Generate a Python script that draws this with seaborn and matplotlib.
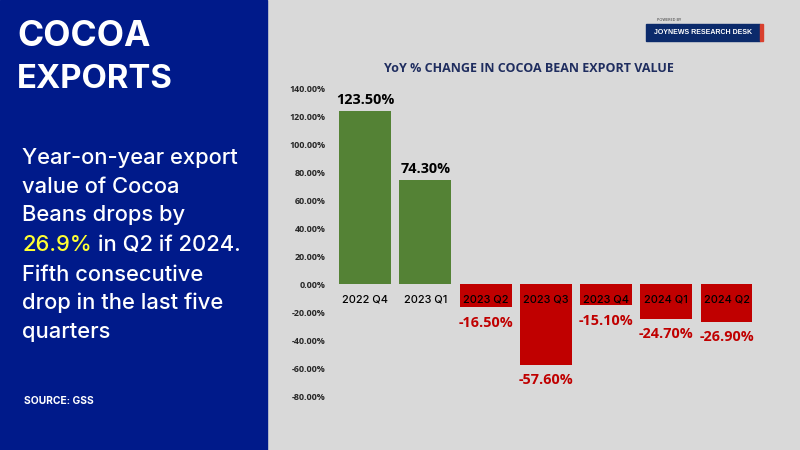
import matplotlib
matplotlib.use("Agg")
import matplotlib.pyplot as plt
import seaborn as sns
import pandas as pd
from matplotlib.patches import Rectangle

quarters = ["2022 Q4", "2023 Q1", "2023 Q2", "2023 Q3", "2023 Q4", "2024 Q1", "2024 Q2"]
yoy_change = [123.5, 74.3, -16.5, -57.6, -15.1, -24.7, -26.9]
y_ticks = [140, 120, 100, 80, 60, 40, 20, 0, -20, -40, -60, -80]
body_lines = ["Year-on-year export", "value of Cocoa", "Beans drops by", None,
              "Fifth consecutive", "drop in the last five", "quarters"]

BG, NAVY, GREEN, RED, LABEL_RED = "#D9D9D9", "#001A8A", "#548235", "#C00000", "#C00000"
W, H = 800, 450

sns.set_theme(style="white")
plt.rcParams["font.family"] = ["Open Sans", "DejaVu Sans"]

df = pd.DataFrame({"quarter": quarters, "yoy": yoy_change})
df["direction"] = ["up" if v >= 0 else "down" for v in yoy_change]

fig = plt.figure(figsize=(8, 4.5), dpi=100, facecolor=BG)
ax = fig.add_axes([335 / W, 1 - 396 / H, (756.7 - 335) / W, (396 - 88) / H])
ax.set_facecolor("none")
sns.barplot(data=df, x="quarter", y="yoy", hue="direction", dodge=False,
            palette={"up": GREEN, "down": RED}, width=0.86, legend=False,
            saturation=1, ax=ax, zorder=2, linewidth=0)
ax.set_xlim(-0.5, 6.5)
ax.set_ylim(-80, 140)
ax.set_xlabel("")
ax.set_ylabel("")
ax.set_yticks(y_ticks)
ax.set_yticklabels([f"{t:.2f}%" for t in y_ticks], fontsize=6.4, fontweight="bold", color="#262626")
ax.tick_params(axis="y", length=0, pad=7)
ax.tick_params(axis="x", length=0, labelbottom=False)
sns.despine(ax=ax, left=True, bottom=True)

for i, q in enumerate(quarters):
    ax.annotate(q, xy=(i, 0), xytext=(0, -11), textcoords="offset points",
                ha="center", va="center", fontsize=7.9, color="#000000",
                fontfamily="Inter", fontweight="medium", zorder=5)

ax.bar_label(ax.containers[0], fmt="%.2f%%", padding=3, fontsize=10.4,
             fontweight="bold", color="#000000", fontfamily="Open Sans")
ax.bar_label(ax.containers[1], fmt="%.2f%%", padding=6.3, fontsize=10.4,
             fontweight="bold", color=LABEL_RED, fontfamily="Open Sans")

fig.text(529 / W, 1 - 68 / H, "YoY % CHANGE IN COCOA BEAN EXPORT VALUE", ha="center", va="center",
         fontsize=9, fontweight="bold", color="#1F2D5F")

fig.add_artist(Rectangle((0, 0), 267 / W, 1, transform=fig.transFigure, color=NAVY, zorder=0))
fig.text(17 / W, 1 - 36 / H, "COCOA", fontsize=25.5, fontweight="bold", color="white", va="center", fontfamily="Inter")
fig.text(17 / W, 1 - 80 / H, "EXPORTS", fontsize=23.7, fontweight="bold", color="white", va="center", fontfamily="Inter")

ys = [158, 187, 215, 245, 275, 303, 332]
body = dict(fontsize=15.8, va="center", fontfamily="Inter", fontweight="medium")
for line, y in zip(body_lines, ys):
    if line:
        fig.text(22 / W, 1 - y / H, line, color="white", **body)
hi = fig.text(22 / W, 1 - ys[3] / H, "26.9%", color="#FFFF33", **body)
fig.canvas.draw()
x_end = hi.get_window_extent().x1
fig.text((x_end + 6) / W, 1 - ys[3] / H, "in Q2 if 2024.", color="white", **body)
fig.text(24 / W, 1 - 401 / H, "SOURCE: GSS", fontsize=7.4, fontweight="bold", color="white", va="center", fontfamily="Inter")

fig.add_artist(Rectangle((646 / W, 1 - 41 / H), 114 / W, 17 / H, transform=fig.transFigure, color="#0B2A6B"))
fig.add_artist(Rectangle((760 / W, 1 - 41 / H), 3 / W, 17 / H, transform=fig.transFigure, color="#D9402E"))
fig.text(703 / W, 1 - 32.5 / H, "JOYNEWS RESEARCH DESK", ha="center", va="center", fontsize=5.0,
         fontweight="bold", color="white", fontfamily="Liberation Sans")
fig.text(657 / W, 1 - 20 / H, "POWERED BY", ha="left", va="center", fontsize=2.8, color="#333333")

fig.savefig("out.png", dpi=100, facecolor=BG)
